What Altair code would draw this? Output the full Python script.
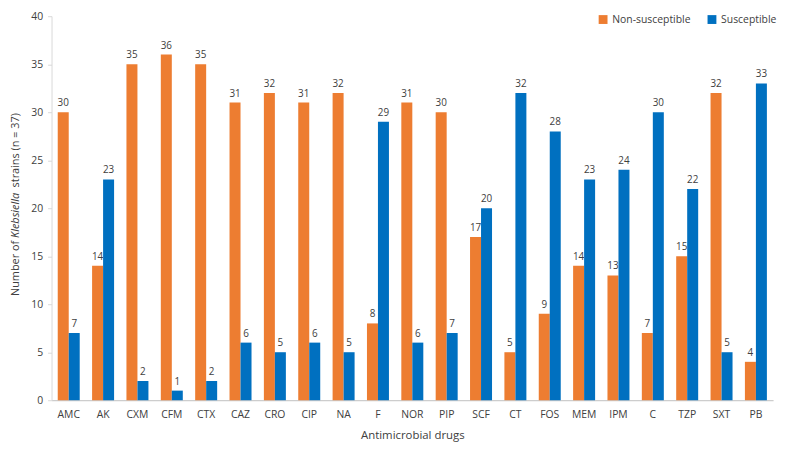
import altair as alt
import pandas as pd

drugs = ["AMC", "AK", "CXM", "CFM", "CTX", "CAZ", "CRO", "CIP", "NA", "F", "NOR",
         "PIP", "SCF", "CT", "FOS", "MEM", "IPM", "C", "TZP", "SXT", "PB"]
non_susceptible = [30, 14, 35, 36, 35, 31, 32, 31, 32, 8, 31, 30, 17, 5, 9, 14, 13, 7, 15, 32, 4]
susceptible = [7, 23, 2, 1, 2, 6, 5, 6, 5, 29, 6, 7, 20, 32, 28, 23, 24, 30, 22, 5, 33]
series = ["Non-susceptible", "Susceptible"]
colors = ["#ED7D31", "#0070C0"]

rows = []
for d, a, b in zip(drugs, non_susceptible, susceptible):
    rows.append({"drug": d, "status": series[0], "count": a})
    rows.append({"drug": d, "status": series[1], "count": b})
df = pd.DataFrame(rows)

FONT = "Open Sans"
W, H = 729, 388

x = alt.X("drug:N", sort=drugs, title="Antimicrobial drugs",
          scale=alt.Scale(paddingInner=0.36, paddingOuter=0.18),
          axis=alt.Axis(labelAngle=0, ticks=False, domainColor="#BFBFBF",
                        labelColor="#404040", labelFontSize=10.5, labelFont=FONT,
                        labelPadding=9, titleFont=FONT, titleFontSize=11.5,
                        titleFontWeight="normal", titleColor="#404040", titlePadding=10))
xo = alt.XOffset("status:N", sort=series)
y = alt.Y("count:Q", scale=alt.Scale(domain=[0, 40]), title=None,
          axis=alt.Axis(values=list(range(0, 41, 5)), grid=False, domainColor="#D9D9D9",
                        tickColor="#D9D9D9", tickSize=4, labelColor="#404040",
                        labelFontSize=10.5, labelFont=FONT, labelPadding=5))
color = alt.Color("status:N", sort=series,
                  scale=alt.Scale(domain=series, range=colors),
                  legend=alt.Legend(title=None, orient="none", legendX=552, legendY=-2,
                                    direction="horizontal", symbolType="square",
                                    symbolSize=80, symbolStrokeWidth=0,
                                    labelFont=FONT, labelFontSize=10.5,
                                    labelColor="#404040", columnPadding=16))

base = alt.Chart(df)
bars = base.mark_bar().encode(x=x, xOffset=xo, y=y, color=color)
labels = base.mark_text(baseline="bottom", dy=-4, font=FONT, fontSize=10,
                        color="#404040").encode(x=x, xOffset=xo, y=y, text="count:Q")

# y-axis title with italic genus name
title_df = pd.DataFrame({"a": ["Number of"], "b": ["Klebsiella"], "c": ["strains (n = 37)"]})
ANCHOR = 224
KW = 48
GAP = 3
t1 = alt.Chart(title_df).mark_text(angle=270, align="right", baseline="middle",
                                   font=FONT, fontSize=11, color="#404040").encode(
    text="a:N", x=alt.value(-36), y=alt.value(ANCHOR + GAP))
t2 = alt.Chart(title_df).mark_text(angle=270, align="left", baseline="middle",
                                   font=FONT, fontSize=11, fontStyle="italic",
                                   color="#404040").encode(
    text="b:N", x=alt.value(-36), y=alt.value(ANCHOR))
t3 = alt.Chart(title_df).mark_text(angle=270, align="left", baseline="middle",
                                   font=FONT, fontSize=11, color="#404040").encode(
    text="c:N", x=alt.value(-36), y=alt.value(ANCHOR - KW - GAP))

chart = alt.layer(bars, labels, t1, t2, t3).properties(
    width=W, height=H,
    autosize=alt.AutoSizeParams(type="none"),
    padding={"left": 44, "top": 6, "right": 8, "bottom": 47},
).configure_view(stroke=None)

chart.save("out.html", embed_options={"renderer": "svg", "actions": False})
